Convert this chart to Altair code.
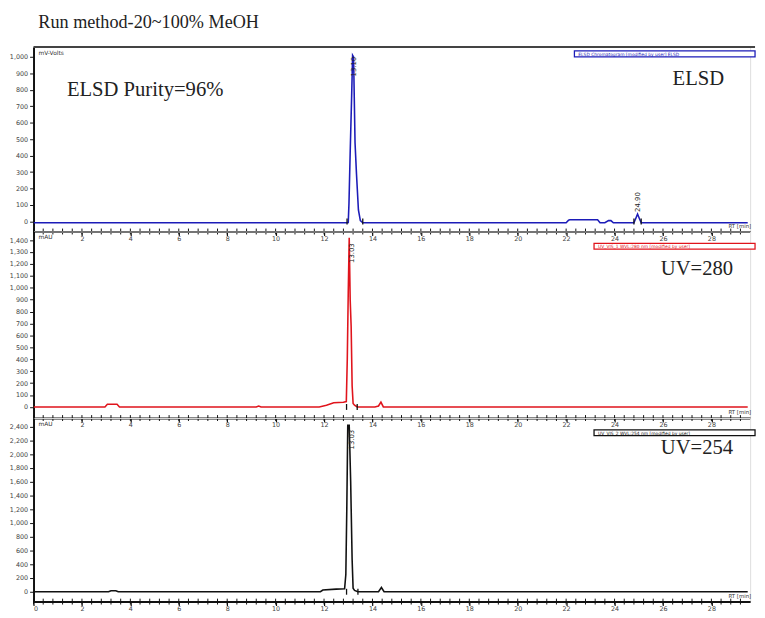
import altair as alt
import pandas as pd
import numpy as np

TITLE = "Run method-20~100% MeOH"

# ELSD trace (mV-Volts)
elsd_t = [0, 12.9, 13.0, 13.03, 13.08, 13.14, 13.18, 13.22, 13.28, 13.34, 13.42, 13.5, 13.6,
          22.0, 22.1, 22.15, 23.3, 23.4, 23.6, 23.75, 23.85, 23.95, 24.8, 24.88, 24.95, 25.02, 25.1, 29.5]
elsd_v = [-8, -8, -6, 110, 420, 760, 1010, 1000, 480, 290, 70, 5, -8,
          -8, 8, 10, 10, -8, -8, 5, 5, -8, -8, 20, 45, 20, -8, -8]

# UV 280 nm trace (mAU)
uv280_t = [0, 2.95, 3.05, 3.45, 3.55, 9.2, 9.3, 9.4, 11.8, 12.1, 12.4, 12.8, 12.92, 12.96, 13.0,
           13.04, 13.08, 13.12, 13.16, 13.2, 13.26, 13.37, 14.1, 14.25, 14.35, 14.45, 29.5]
uv280_v = [0, 0, 22, 22, 0, 0, 8, 0, 0, 15, 35, 40, 45, 400, 960,
           1420, 900, 673, 179, 30, 15, 0, 0, 8, 40, 0, 0]

# UV 254 nm trace (mAU)
uv254_t = [0, 3.1, 3.2, 3.4, 3.5, 11.85, 11.95, 12.5, 12.85, 12.9, 12.94, 12.98, 13.04, 13.1,
           13.16, 13.2, 13.26, 13.4, 14.25, 14.37, 14.48, 29.5]
uv254_v = [0, 0, 15, 15, 0, 0, 25, 38, 45, 250, 1200, 2420, 2420, 1600,
           470, 50, 20, 0, 0, 62, 0, 0]

# peak labels and integration limits
elsd_peaks = ["13.10", "24.90"]
elsd_peak_t = [13.24, 24.95]
elsd_limits = [12.95, 13.6, 24.8, 25.1]
uv280_peaks = ["13.03"]
uv280_peak_t = [13.14]
uv280_limits = [12.93, 13.37]
uv254_peaks = ["13.03"]
uv254_peak_t = [13.14]
uv254_limits = [12.93, 13.4]

X_MAX = 29.6
W = 730
SERIF = "Liberation Serif"


def one():
    return pd.DataFrame({"a": [0]})


def label(txt, px, py, size=21, color="#222", font=SERIF, align="left"):
    return alt.Chart(one()).mark_text(
        text=txt, font=font, fontSize=size, color=color, align=align, baseline="alphabetic"
    ).encode(x=alt.value(px), y=alt.value(py))


def panel(t, v, color, ydom, ystep, H, unit, name, name_xy, peaks, peak_t, peak_y,
          limits, box_txt, box_x, box_y, xlabels_from, top_border=False, extra=None):
    df = pd.DataFrame({"t": t, "v": v})
    xs = alt.Scale(domain=[0, X_MAX], nice=False, zero=False)
    ys = alt.Scale(domain=ydom, nice=False, zero=False)
    xaxis = alt.Axis(values=list(range(xlabels_from, 29, 2)), labelFontSize=6.5,
                     labelColor="#444", tickSize=4, tickColor="#111", domainColor="#111",
                     domainWidth=2, tickWidth=1.2, labelPadding=0, grid=False,
                     labelFont="DejaVu Sans", title=None)
    X = alt.X("t:Q", scale=xs, axis=xaxis, title=None)
    yvals = [y for y in range(0, int(ydom[1]) + 1, ystep) if y <= ydom[1] - 30]
    line = alt.Chart(df).mark_line(color=color, strokeWidth=1.6, clip=True).encode(
        x=X,
        y=alt.Y("v:Q", scale=ys, title=None,
                axis=alt.Axis(values=yvals, format=",d", labelFontSize=6.5, labelColor="#444",
                              tickSize=4, tickColor="#111", domainColor="#111", domainWidth=2,
                              labelPadding=2, grid=False, labelFont="DejaVu Sans")),
    )
    minor = alt.Chart(pd.DataFrame({"t": np.arange(0, X_MAX, 0.4)})).mark_rule(
        color="#111", strokeWidth=1
    ).encode(x=X, y=alt.value(H - 3), y2=alt.value(H + 3))
    base_px = H - (0 - ydom[0]) / (ydom[1] - ydom[0]) * H
    lim = alt.Chart(pd.DataFrame({"t": limits})).mark_rule(
        color="#111", strokeWidth=1.3
    ).encode(x=X, y=alt.value(base_px - 3), y2=alt.value(base_px + 3))
    pk = alt.Chart(pd.DataFrame({"t": peak_t, "lab": peaks, "py": peak_y})).mark_text(
        angle=270, fontSize=7, color="#222", font="DejaVu Sans", align="center", baseline="middle"
    ).encode(x=X, y=alt.Y("py:Q", scale=alt.Scale(domain=[0, H], range=[0, H]), axis=None),
             text="lab:N")
    box = alt.Chart(one()).mark_rect(fill="white", stroke=color, strokeWidth=1.3).encode(
        x=alt.value(box_x), x2=alt.value(W + 5), y=alt.value(box_y), y2=alt.value(box_y + 6))
    boxt = label(box_txt, box_x + 4, box_y + 5, size=4.5, color=color, font="DejaVu Sans")
    unit_t = label(unit, 5, 8, size=6, color="#333", font="DejaVu Sans")
    mins = label("RT [min]", W - 22, H - 4, size=5.5, color="#333", font="DejaVu Sans")
    layers = [line, minor, lim, pk, box, boxt, unit_t, mins, label(name, name_xy[0], name_xy[1])]
    if extra is not None:
        layers.append(extra)
    if top_border:
        layers.append(alt.Chart(one()).mark_rule(color="#444", strokeWidth=2).encode(
            x=alt.value(0), x2=alt.value(W + 5), y=alt.value(0)))
    return alt.layer(*layers).resolve_scale(y="independent").properties(width=W, height=H)


p1 = panel(elsd_t, elsd_v, "#1c1cb8", [-61, 1060], 100, 188, "mV-Volts", "ELSD", (651, 39),
           elsd_peaks, elsd_peak_t, [20, 158], elsd_limits,
           "ELSD Chromatogram  [modified by user]  ELSD", 551, 4, 2, top_border=True,
           extra=label("ELSD Purity=96%", 34, 50))
p2 = panel(uv280_t, uv280_v, "#e0141c", [-93, 1472], 100, 190, "mAU", "UV=280", (639, 44),
           uv280_peaks, uv280_peak_t, [22], uv280_limits,
           "UV_VIS_1  WVL:280 nm  [modified by user]", 571, 12, 2)
p3 = panel(uv254_t, uv254_v, "#111111", [-143, 2524], 200, 187, "mAU", "UV=254", (639, 37),
           uv254_peaks, uv254_peak_t, [22], uv254_limits,
           "UV_VIS_2  WVL:254 nm  [modified by user]", 571, 12, 0)

chart = alt.vconcat(p1, p2, p3, spacing=0, bounds="flush").properties(
    title=alt.TitleParams(TITLE, anchor="start", font=SERIF, fontSize=18.5, fontWeight="normal",
                          color="#222", offset=14, dx=30)
).configure_view(stroke=None).configure(padding=0)

chart.save("out.html", embed_options={"renderer": "svg", "actions": False})
